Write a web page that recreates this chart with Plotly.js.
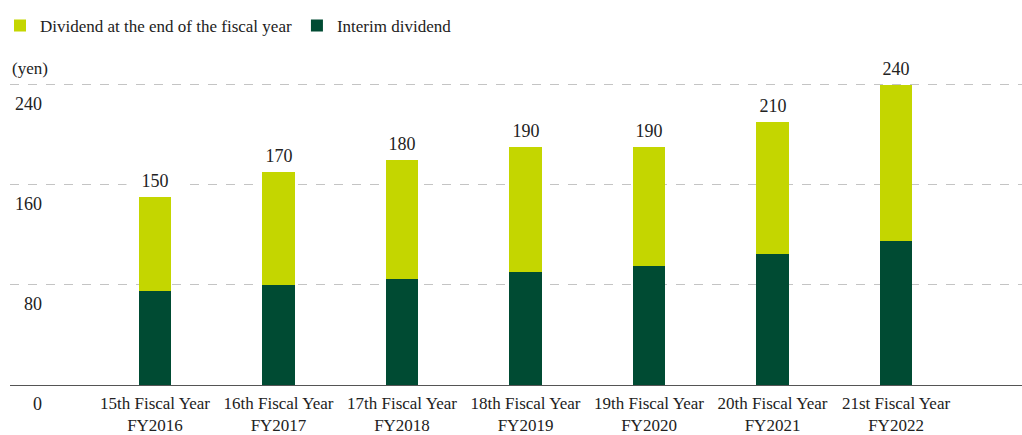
<!DOCTYPE html>
<html>
<head>
<meta charset="utf-8">
<script src="https://cdn.plot.ly/plotly-3.0.1.min.js"></script>
<style>
  html, body { margin: 0; padding: 0; background: #fff; }
  #chart { width: 1022px; height: 435px; }
</style>
</head>
<body>
<div id="chart"></div>
<script>
// ---- data ----
const fiscalTerms = ['15th Fiscal Year', '16th Fiscal Year', '17th Fiscal Year', '18th Fiscal Year', '19th Fiscal Year', '20th Fiscal Year', '21st Fiscal Year'];
const fiscalYears = ['FY2016', 'FY2017', 'FY2018', 'FY2019', 'FY2020', 'FY2021', 'FY2022'];
const interimDividend = [75, 80, 85, 90, 95, 105, 115];
const yearEndDividend = [75, 90, 95, 100, 95, 105, 125];
const yTickValues = [0, 80, 160, 240];
const seriesNames = ['Dividend at the end of the fiscal year', 'Interim dividend'];
const unitLabel = '(yen)';

// ---- build ----
const categories = fiscalTerms.map((t, i) => t + '<br>' + fiscalYears[i]);
const totals = interimDividend.map((v, i) => v + yearEndDividend[i]);

const FONT = '"Liberation Serif", "Times New Roman", serif';
const DARK = '#004b33';
const LIME = '#c4d600';

const traces = [
  {
    type: 'bar', x: categories, y: interimDividend, name: seriesNames[1],
    marker: { color: DARK }, legendrank: 2, hoverinfo: 'skip'
  },
  {
    type: 'bar', x: categories, y: yearEndDividend, name: seriesNames[0],
    marker: { color: LIME }, legendrank: 1, hoverinfo: 'skip'
  }
];

const annotations = [];
categories.forEach((c, i) => {
  annotations.push({
    x: c, y: totals[i], xref: 'x', yref: 'y', text: String(totals[i]),
    showarrow: false, yanchor: 'middle', yshift: 16,
    font: { family: FONT, size: 18, color: '#222' },
    bgcolor: '#fff', width: 56, borderpad: 0
  });
});
yTickValues.forEach(v => {
  annotations.push({
    x: 0, xref: 'paper', xshift: 34, xanchor: 'right',
    y: v, yref: 'y', yshift: -19, yanchor: 'middle',
    text: String(v), showarrow: false,
    font: { family: FONT, size: 18, color: '#222' }
  });
});
annotations.push({
  x: 0, xref: 'paper', xanchor: 'left', xshift: 0,
  y: yTickValues[yTickValues.length - 1], yref: 'y', yshift: 16, yanchor: 'middle',
  text: unitLabel, showarrow: false,
  font: { family: FONT, size: 17, color: '#222' }
});

const layout = {
  width: 1022, height: 435,
  margin: { l: 10, r: 0, t: 72, b: 50 },
  paper_bgcolor: '#fff', plot_bgcolor: '#fff',
  barmode: 'stack', bargap: 0.74,
  font: { family: FONT, size: 17, color: '#222' },
  showlegend: true,
  legend: {
    orientation: 'h', xref: 'container', yref: 'container',
    x: -0.012, y: 0.982, xanchor: 'left', yanchor: 'top',
    font: { family: FONT, size: 17, color: '#222' },
    traceorder: 'normal'
  },
  xaxis: {
    type: 'category', range: [-1.174, 7.02], fixedrange: true,
    showgrid: false, showline: false, zeroline: false, ticks: '',
    ticklabelstandoff: 6,
    tickfont: { family: FONT, size: 17, color: '#222' }
  },
  yaxis: {
    range: [0, 250], tickvals: yTickValues, showticklabels: false,
    showgrid: true, gridcolor: '#c4c4c4', griddash: 'dash', gridwidth: 1,
    zeroline: true, zerolinecolor: '#555', zerolinewidth: 1,
    showline: false, ticks: '', fixedrange: true
  },
  annotations: annotations
};

Plotly.newPlot('chart', traces, layout, { displayModeBar: false, staticPlot: true });
</script>
</body>
</html>
